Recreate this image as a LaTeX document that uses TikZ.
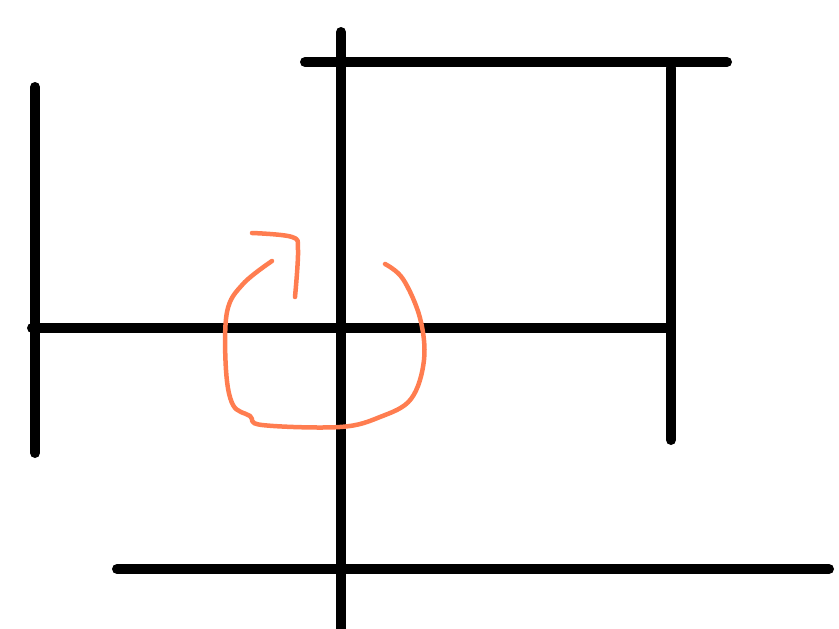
\documentclass[tikz,border=0pt]{standalone}
\definecolor{sketchorange}{RGB}{255,125,80}
\begin{document}
\begin{tikzpicture}[x=1pt,y=-1pt,
  blackline/.style={line width=10pt,line cap=round,black},
  orangeline/.style={line width=4.5pt,line cap=round,line join=round,sketchorange}]
\useasboundingbox (0,0) rectangle (839,629);
\fill[white] (0,0) rectangle (839,629);
% black lines
\draw[blackline] (35,87) -- (35,453);
\draw[blackline] (32,328) -- (668,328);
\draw[blackline] (341,32) -- (341,640);
\draw[blackline] (305,62) -- (727,62);
\draw[blackline] (671,68) -- (671,440);
\draw[blackline] (117,569) -- (829,569);
% orange loop
\draw[orangeline] plot[smooth,tension=0.6] coordinates {(385,264) (403,279) (420,318) (424,360) (411,399) (380,417) (340,427) (262,425) (250,416) (233,405) (226,370) (227,312) (243,284) (272,261)};
% orange arrow head
\draw[orangeline] plot[smooth,tension=0.6] coordinates {(295,297) (298,250) (292,237) (252,233)};
\end{tikzpicture}
\end{document}
